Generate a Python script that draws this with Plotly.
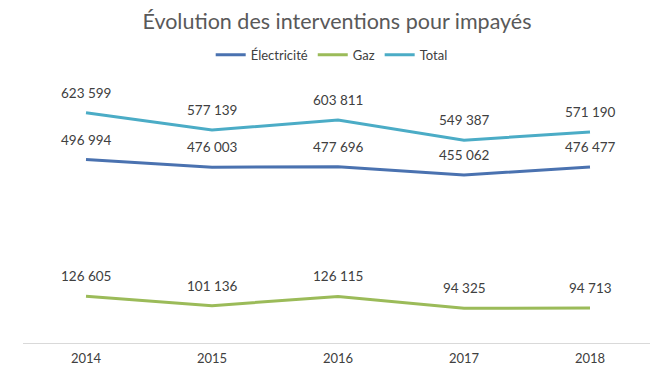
import plotly.graph_objects as go

years = ["2014", "2015", "2016", "2017", "2018"]
electricite = [496994, 476003, 477696, 455062, 476477]
gaz = [126605, 101136, 126115, 94325, 94713]
total = [623599, 577139, 603811, 549387, 571190]

series = [
    ("Électricité", electricite, "#4A72B0"),
    ("Gaz", gaz, "#9BBB59"),
    ("Total", total, "#4BACC6"),
]

def fmt(v):
    return f"{v:,}".replace(",", " ")

fig = go.Figure()
annotations = []
for name, vals, color in series:
    fig.add_trace(go.Scatter(x=years, y=vals, name=name, mode="lines",
                             line=dict(color=color, width=3), hoverinfo="skip"))
    for i, v in enumerate(vals):
        annotations.append(dict(x=i, y=v, xref="x", yref="y", text=fmt(v), showarrow=False,
                                yshift=20, font=dict(size=13.5, color="#404040", family="Lato")))

fig.update_layout(
    width=658, height=370,
    margin=dict(l=15, r=13, t=81, b=28),
    paper_bgcolor="white", plot_bgcolor="white",
    font=dict(family="Lato", color="#595959"),
    title=dict(text="Évolution des interventions pour impayés", x=0.5, xanchor="center",
               y=0.963, yanchor="middle", font=dict(size=21.5, color="#595959", family="Lato")),
    legend=dict(orientation="h", x=0.49, xanchor="center", y=1.135, yanchor="middle",
                font=dict(size=13, color="#404040"), itemwidth=30, tracegroupgap=0),
    annotations=annotations,
    showlegend=True,
)
fig.update_xaxes(type="category", range=[-0.5, 4.5], showgrid=False, showline=True,
                 linecolor="#D9D9D9", linewidth=1, ticklabelstandoff=3,
                 ticks="", tickfont=dict(size=13, color="#404040"), fixedrange=True)
fig.update_yaxes(range=[0, 688000], showgrid=False, zeroline=False, showticklabels=False,
                 fixedrange=True)

fig.write_html("out.html")
